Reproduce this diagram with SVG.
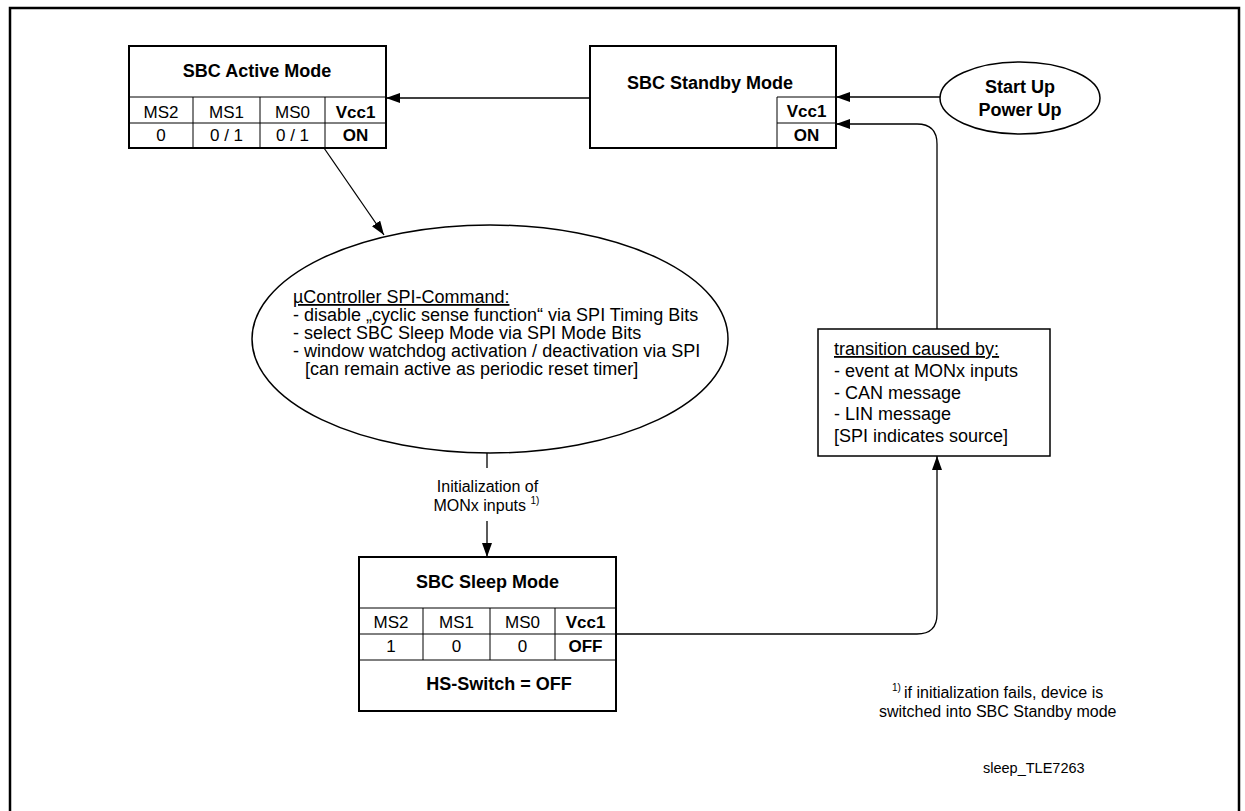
<svg xmlns="http://www.w3.org/2000/svg" width="1245" height="811" viewBox="0 0 1245 811">
<style>
text{font-family:"Liberation Sans",Arial,sans-serif;fill:#000}
.t{font-size:18px;font-weight:bold;text-anchor:middle}
.c{font-size:17px;text-anchor:middle}
.cb{font-size:17px;font-weight:bold;text-anchor:middle}
.box{fill:#fff;stroke:#000;stroke-width:2}
.in{stroke:#000;stroke-width:1;fill:none}
.con{stroke:#000;stroke-width:1.3;fill:none}
.e{fill:#fff;stroke:#000;stroke-width:1.5}
.tx{font-size:18px}
.u{text-decoration:underline}
</style>
<defs>
<marker id="ah" markerUnits="userSpaceOnUse" markerWidth="15" markerHeight="11" refX="14" refY="5" orient="auto">
<path d="M0,0 L14,5 L0,10 z" fill="#000"/>
</marker>
</defs>
<rect x="10" y="8" width="1229" height="812" fill="#fff" stroke="#000" stroke-width="2.5"/>

<g id="connectors">
<path class="con" d="M590,98 L386,98" marker-end="url(#ah)"/>
<path class="con" d="M940,97 L836,97" marker-end="url(#ah)"/>
<path class="con" d="M324,148 L384,235" marker-end="url(#ah)"/>
<path class="con" d="M487,453 L487,468"/>
<path class="con" d="M487,521 L487,557" marker-end="url(#ah)"/>
<path class="con" d="M616,634 L917,634 Q937,634 937,614 L937,456" marker-end="url(#ah)"/>
<path class="con" d="M937,329 L937,144 Q937,124 917,124 L836,124" marker-end="url(#ah)"/>
</g>

<g id="active">
<rect class="box" x="129" y="46" width="257" height="102"/>
<path class="in" d="M129,97 H386 M129,123 H386 M193,97 V148 M260,97 V148 M325,97 V148"/>
<text class="t" x="257" y="77">SBC Active Mode</text>
<text class="c" x="161" y="118">MS2</text>
<text class="c" x="226.5" y="118">MS1</text>
<text class="c" x="292.5" y="118">MS0</text>
<text class="cb" x="355.5" y="118">Vcc1</text>
<text class="c" x="161" y="141">0</text>
<text class="c" x="226.5" y="141">0 / 1</text>
<text class="c" x="292.5" y="141">0 / 1</text>
<text class="cb" x="355.5" y="141">ON</text>
</g>

<g id="standby">
<rect class="box" x="590" y="46" width="246" height="102"/>
<path class="in" d="M777,148 V97 H836 M777,123 H836"/>
<text class="t" x="710" y="89">SBC Standby Mode</text>
<text class="cb" x="806.5" y="117">Vcc1</text>
<text class="cb" x="806.5" y="141">ON</text>
</g>

<g id="startup">
<ellipse class="e" cx="1020" cy="98" rx="80" ry="36"/>
<text class="t" x="1020" y="93">Start Up</text>
<text class="t" x="1020" y="116">Power Up</text>
</g>

<g id="command">
<ellipse class="e" cx="490" cy="339" rx="238" ry="114"/>
<text class="tx" x="293" y="303"><tspan class="u">µController SPI-Command:</tspan></text>
<text class="tx" x="293" y="321">- disable „cyclic sense function“ via SPI Timing Bits</text>
<text class="tx" x="293" y="339">- select SBC Sleep Mode via SPI Mode Bits</text>
<text class="tx" x="293" y="357">- window watchdog activation / deactivation via SPI</text>
<text class="tx" x="305" y="375">[can remain active as periodic reset timer]</text>
</g>

<g id="init-label">
<text style="font-size:16px;text-anchor:middle" x="487.5" y="492">Initialization of</text>
<text style="font-size:16px" x="433.5" y="511">MONx inputs <tspan style="font-size:10px" dy="-7">1)</tspan></text>
</g>

<g id="sleep">
<rect class="box" x="359" y="557" width="257" height="154"/>
<path class="in" d="M359,608 H616 M359,634 H616 M359,660 H616 M423,608 V660 M490,608 V660 M555,608 V660"/>
<text class="t" x="487.5" y="588">SBC Sleep Mode</text>
<text class="c" x="391" y="628">MS2</text>
<text class="c" x="456.5" y="628">MS1</text>
<text class="c" x="522.5" y="628">MS0</text>
<text class="cb" x="585.5" y="628">Vcc1</text>
<text class="c" x="391" y="652">1</text>
<text class="c" x="456.5" y="652">0</text>
<text class="c" x="522.5" y="652">0</text>
<text class="cb" x="585.5" y="652">OFF</text>
<text class="t" x="499" y="690">HS-Switch = OFF</text>
</g>

<g id="transition">
<rect x="818" y="329" width="232" height="127" fill="#fff" stroke="#000" stroke-width="1.5"/>
<text class="tx" x="834" y="355"><tspan class="u">transition caused by:</tspan></text>
<text class="tx" x="834" y="377">- event at MONx inputs</text>
<text class="tx" x="834" y="399">- CAN message</text>
<text class="tx" x="834" y="420">- LIN message</text>
<text class="tx" x="834" y="442">[SPI indicates source]</text>
</g>

<g id="footnote">
<text style="font-size:10px" x="892" y="691">1)</text>
<text style="font-size:16px" x="904" y="698">if initialization fails, device is</text>
<text style="font-size:16px" x="879" y="717">switched into SBC Standby mode</text>
<text style="font-size:14.5px" x="983" y="773">sleep_TLE7263</text>
</g>
</svg>
